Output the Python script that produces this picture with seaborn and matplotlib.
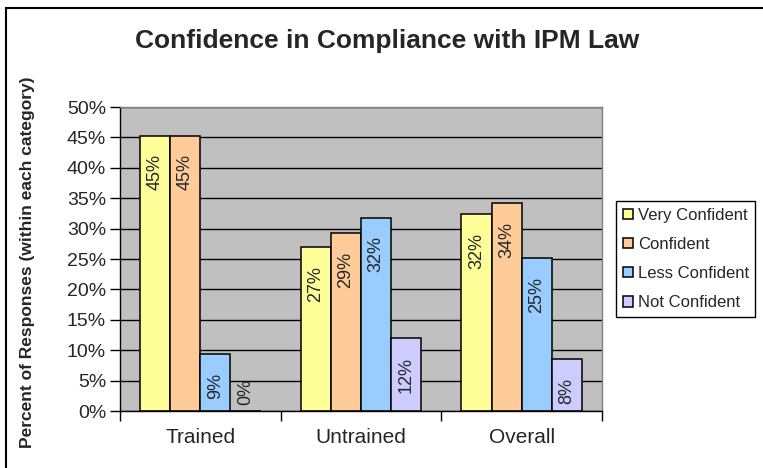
import matplotlib
matplotlib.use("Agg")
import matplotlib.pyplot as plt
import seaborn as sns
import pandas as pd
from matplotlib.patches import Rectangle

categories = ["Trained", "Untrained", "Overall"]
levels = ["Very Confident", "Confident", "Less Confident", "Not Confident"]
very_confident = [45.3, 26.9, 32.4]
confident = [45.3, 29.3, 34.2]
less_confident = [9.3, 31.8, 25.1]
not_confident = [0.0, 12.0, 8.5]
label_text = {
    "Very Confident": ["45%", "27%", "32%"],
    "Confident": ["45%", "29%", "34%"],
    "Less Confident": ["9%", "32%", "25%"],
    "Not Confident": ["0%", "12%", "8%"],
}
yticks = [0, 5, 10, 15, 20, 25, 30, 35, 40, 45, 50]
ytick_labels = [f"{t}%" for t in yticks]
colors = ["#FFFF99", "#FFCC99", "#99CCFF", "#CCCCFF"]

series = [very_confident, confident, less_confident, not_confident]
rows = []
for lvl, vals in zip(levels, series):
    for c, v in zip(categories, vals):
        rows.append({"Category": c, "Level": lvl, "Value": v})
df = pd.DataFrame(rows)

sns.set_theme(style="white")
plt.rcParams["font.family"] = ["Liberation Sans", "DejaVu Sans"]

fig = plt.figure(figsize=(7.63, 4.68), dpi=100)
ax = fig.add_axes([120 / 763, 1 - 411 / 468, (602 - 120) / 763, (411 - 107) / 468])
ax.set_facecolor("#C0C0C0")
ax.set_axisbelow(True)

sns.barplot(data=df, x="Category", y="Value", hue="Level", order=categories,
            hue_order=levels, palette=colors, width=0.75, gap=0,
            edgecolor="black", linewidth=1.1, saturation=1, ax=ax, legend=True,
            errorbar=None)

ax.set_ylim(0, 50)
ax.set_xlim(-0.5, 2.5)
ax.set_yticks(yticks)
ax.set_yticklabels(ytick_labels, fontsize=14)
ax.yaxis.grid(True, color="black", linewidth=1.0)
ax.xaxis.grid(False)

ax.set_xticks([-0.5, 0.5, 1.5, 2.5])
ax.set_xticklabels([])
ax.set_xticks([0, 1, 2], minor=True)
ax.set_xticklabels(categories, minor=True, fontsize=15)
ax.tick_params(axis="x", which="major", direction="out", length=7, width=1, color="black", bottom=True)
ax.tick_params(axis="x", which="minor", length=0, pad=12)
ax.tick_params(axis="y", direction="out", length=7, width=1, color="black", left=True, pad=3)
ax.set_xlabel("")
ax.set_ylabel("")

for side in ["left", "bottom"]:
    ax.spines[side].set_color("black")
    ax.spines[side].set_linewidth(1.0)
for side in ["top", "right"]:
    ax.spines[side].set_color("#808080")
    ax.spines[side].set_linewidth(1.0)

for lvl, cont in zip(levels, ax.containers):
    for patch, txt in zip(cont.patches, label_text[lvl]):
        xc = patch.get_x() + patch.get_width() / 2
        h = patch.get_height()
        if h < 5:
            ax.annotate(txt, (xc, h), xytext=(0, 4.5), textcoords="offset points",
                        rotation=90, ha="center", va="bottom", fontsize=13)
        else:
            ax.annotate(txt, (xc, h), xytext=(0, -13.5), textcoords="offset points",
                        rotation=90, ha="center", va="top", fontsize=13)

handles, labels = ax.get_legend_handles_labels()
leg = ax.legend(handles, labels, loc="upper left",
                bbox_to_anchor=(616 / 763, 1 - 201 / 468), bbox_transform=fig.transFigure,
                borderaxespad=0, frameon=True, fancybox=False, framealpha=1,
                edgecolor="black", fontsize=12, handlelength=0.6, handleheight=0.6,
                handletextpad=0.3, labelspacing=0.85, borderpad=0.4, title=None)
leg.get_frame().set_linewidth(1.0)

fig.text(387 / 763, 1 - 41 / 468, "Confidence in Compliance with IPM Law",
         ha="center", va="center", fontsize=19, fontweight="bold")
fig.text(28 / 763, 1 - 262 / 468, "Percent of Responses (within each category)",
         ha="center", va="center", rotation=90, fontsize=12.5, fontweight="bold")

fig.patches.append(Rectangle((6 / 763, -0.1), 1.2, (1 - 8 / 468) + 0.1,
                             transform=fig.transFigure, fill=False,
                             edgecolor="black", linewidth=1.5))

fig.savefig("out.png", dpi=100)
